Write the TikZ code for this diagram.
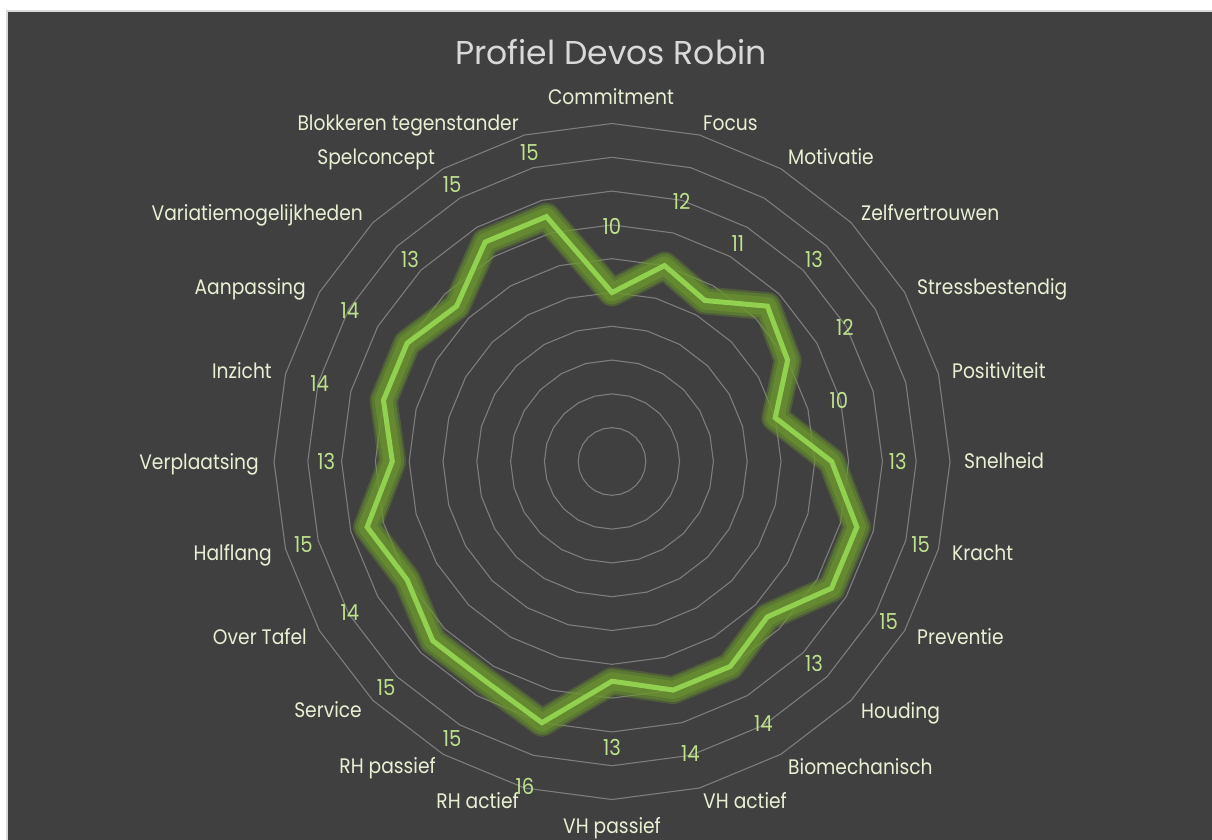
\documentclass[tikz,border=0pt]{standalone}
\usepackage{fontspec}
\usetikzlibrary{calc}
\setmainfont{Poppins}
\newfontfamily\lblfont[FakeStretch=0.89]{Poppins}
\newfontfamily\ttlfont{Poppins}
\definecolor{bg}{RGB}{64,64,64}
\definecolor{bordercol}{RGB}{217,217,217}
\definecolor{ringgray}{RGB}{125,125,125}
\definecolor{titlecol}{RGB}{217,217,217}
\definecolor{lblcol}{RGB}{232,240,212}
\definecolor{valcol}{RGB}{190,226,140}
\definecolor{linecol}{RGB}{146,208,80}
\definecolor{glowcol}{RGB}{108,152,46}
\begin{document}
\begin{tikzpicture}[x=1pt,y=-1pt,
  ring/.style={draw=ringgray, line width=1.1pt, line join=round},
  catlbl/.style={font=\lblfont\fontsize{21}{24}\selectfont, text=lblcol, inner sep=0pt},
  catL/.style={catlbl, anchor=base east},
  catR/.style={catlbl, anchor=base west},
  catC/.style={catlbl, anchor=base},
  vallbl/.style={font=\lblfont\fontsize{22}{24}\selectfont, text=valcol, inner sep=0pt},
  glow/.style={draw=glowcol, line join=round, line cap=round},
  dataline/.style={draw=linecol, line width=5pt, line join=miter}]
\useasboundingbox (0,0) rectangle (1212,840);
\fill[white] (0,0) rectangle (1212,840);
\draw[fill=bg, draw=bordercol, line width=2pt] (7,11) rectangle (1240,870);
\coordinate (c) at (612,461.5);
\node[font=\ttlfont\fontsize{33}{40}\selectfont, text=titlecol, inner sep=0pt] (title) at (611,52) {Profiel Devos Robin};
% grid rings
\foreach \k in {1,...,10}{
  \draw[ring, shift={(c)}] (-90:{\k*33.8}) \foreach \i in {1,...,23}{ -- ({15*\i-90}:{\k*33.8})} -- cycle;
}
% data points and value labels
\foreach \v [count=\n from 0] in {10,12,11,13,12,10,13,15,15,13,14,14,13,16,15,15,14,15,13,14,14,13,15,15}{
  \coordinate (p\n) at ($(c)+({15*\n-90}:{\v*16.9})$);
  \node[vallbl] (v\n) at ($(c)+({15*\n-90}:{\v*16.9+66})$) {\v};
}
% glow
\draw[glow, line width=28pt, opacity=0.33] (p0) \foreach \n in {1,...,23}{ -- (p\n)} -- cycle;
\draw[glow, line width=24pt, opacity=0.45] (p0) \foreach \n in {1,...,23}{ -- (p\n)} -- cycle;
\draw[glow, line width=18pt, opacity=0.55] (p0) \foreach \n in {1,...,23}{ -- (p\n)} -- cycle;
\draw[dataline] (p0) \foreach \n in {1,...,23}{ -- (p\n)} -- cycle;
% category labels
\node[catC] (l0) at (611,104.5) {Commitment};
\node[catR] (l1) at (703,130.5) {Focus};
\node[catR] (l2) at (788,164.5) {Motivatie};
\node[catR] (l3) at (861,220.5) {Zelfvertrouwen};
\node[catR] (l4) at (917,294.5) {Stressbestendig};
\node[catR] (l5) at (952,378.5) {Positiviteit};
\node[catR] (l6) at (964,468.5) {Snelheid};
\node[catR] (l7) at (952,560.5) {Kracht};
\node[catR] (l8) at (917,644.5) {Preventie};
\node[catR] (l9) at (861,718.5) {Houding};
\node[catR] (l10) at (788,774.5) {Biomechanisch};
\node[catR] (l11) at (703,808.5) {VH actief};
\node[catC] (l12) at (612,833.5) {VH passief};
\node[catL] (l13) at (519,808.5) {RH actief};
\node[catL] (l14) at (436,773.5) {RH passief};
\node[catL] (l15) at (362,717.5) {Service};
\node[catL] (l16) at (307,644.5) {Over Tafel};
\node[catL] (l17) at (272,560.5) {Halflang};
\node[catL] (l18) at (259,469.5) {Verplaatsing};
\node[catL] (l19) at (272,378.5) {Inzicht};
\node[catL] (l20) at (306,294.5) {Aanpassing};
\node[catL] (l21) at (363,220.5) {Variatiemogelijkheden};
\node[catL] (l22) at (435,164.5) {Spelconcept};
\node[catL] (l23) at (519,130.5) {Blokkeren tegenstander};
\end{tikzpicture}
\end{document}
